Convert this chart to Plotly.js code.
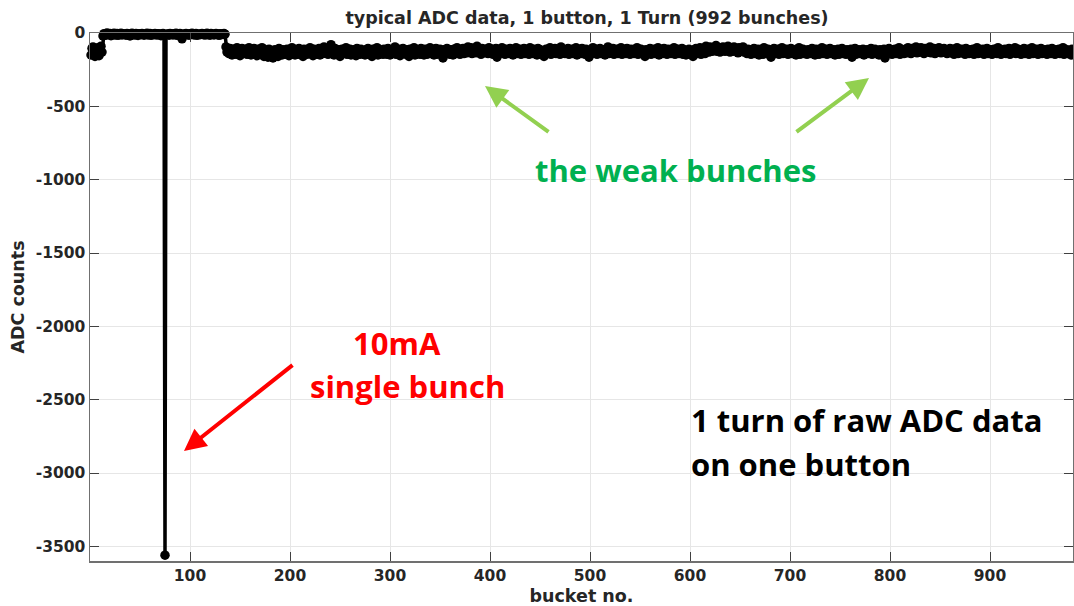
<!DOCTYPE html>
<html>
<head>
<meta charset="utf-8">
<script src="https://cdn.plot.ly/plotly-3.0.1.min.js"></script>
<style>html,body{margin:0;padding:0;background:#fff;}#chart{width:1074px;height:606px;}</style>
</head>
<body>
<div id="chart"></div>
<script>
// ADC counts, bunches 1-12 (before the fill gap)
const headBunches = [-150,-105,-95,-135,-160,-115,-145,-100,-155,-120,-90,-130];
// bunches 13-135 (gap, with 10mA single bunch at 75)
const gapBunches = [
-20,-5,-10,-15,0,-8,-12,-3,-18,-6,-10,-2,-14,-9,-4,-16,-7,-11,-1,-13,
-5,-10,-8,-15,-3,-12,-6,-20,-9,-2,-11,-7,-14,-4,-10,-17,-5,-8,-12,-3,
-9,-15,-6,-11,-2,-13,-8,-4,-16,-10,-7,-12,-3,-9,-14,-5,-11,-6,-18,-8,
-4,-10,
-3560,
-12,-6,-9,-15,-3,-11,-7,-13,-5,-10,-2,-16,-8,-12,-4,-9,-40,
-14,-6,-10,-3,-12,-8,-15,-5,-11,-2,-9,-13,-7,-4,-16,-10,-6,-12,-8,-3,
-11,-5,-14,-9,-2,-12,-7,-15,-4,-10,-8,-13,-6,-3,-11,-9,-16,-5,-12,-7,-10,-4,-8
];
// bunches 136-992 (the weak bunches)
const weakBunches = [
-95,-130,-115,-140,-105,-125,-150,-110,-135,-120,-145,-100,-130,-115,-155,-125,-105,-140,-120,-135,
-110,-145,-125,-100,-135,-150,-115,-130,-105,-140,-125,-155,-110,-135,-120,-145,-100,-130,-160,-115,
-140,-125,-165,-110,-135,-150,-120,-170,-130,-115,-145,-125,-160,-105,-140,-130,-150,-115,-135,-125,
-145,-110,-130,-155,-120,-140,-100,-135,-125,-150,-115,-130,-145,-105,-140,-120,-135,-160,-110,-130,
-125,-145,-115,-135,-100,-140,-130,-155,-110,-125,-145,-120,-135,-105,-150,-115,-130,-140,-95,-125,
-135,-115,-145,-110,-130,-80,-140,-120,-150,-105,-135,-125,-145,-115,-160,-130,-110,-140,-125,-135,
-100,-145,-120,-135,-110,-150,-125,-140,-115,-130,-155,-105,-135,-120,-145,-110,-130,-140,-125,-150,
-115,-135,-105,-145,-125,-130,-160,-110,-140,-120,-135,-100,-150,-125,-115,-140,-130,-145,-110,-135,
-120,-145,-105,-130,-150,-115,-140,-125,-135,-95,-145,-120,-130,-110,-155,-125,-140,-105,-135,-120,
-145,-115,-130,-160,-110,-140,-125,-135,-100,-150,-120,-140,-115,-130,-145,-105,-135,-125,-150,-110,
-130,-145,-120,-135,-100,-140,-125,-115,-150,-130,-105,-145,-120,-135,-110,-140,-125,-170,-115,-130,
-140,-105,-135,-120,-145,-115,-130,-150,-110,-125,-140,-100,-135,-120,-145,-115,-130,-105,-140,-125,
-110,-135,-95,-130,-120,-100,-140,-115,-125,-105,-135,-90,-130,-115,-120,-145,-105,-125,-135,-110,
-130,-115,-140,-100,-125,-135,-110,-145,-120,-130,-105,-165,-125,-140,-115,-130,-100,-135,-120,-145,
-110,-130,-125,-140,-105,-135,-120,-150,-115,-130,-100,-140,-125,-135,-110,-145,-120,-130,-105,-140,
-125,-135,-115,-145,-100,-130,-120,-140,-110,-135,-125,-150,-105,-130,-115,-140,-120,-135,-160,-125,
-110,-140,-120,-130,-100,-145,-115,-135,-125,-105,-140,-120,-130,-110,-145,-95,-135,-120,-125,-140,
-115,-130,-105,-145,-120,-135,-110,-140,-125,-130,-100,-150,-115,-135,-120,-140,-105,-130,-125,-145,
-110,-135,-120,-165,-130,-115,-140,-100,-125,-135,-110,-145,-120,-130,-105,-140,-125,-135,-115,-150,
-120,-130,-95,-140,-115,-135,-125,-105,-145,-120,-130,-110,-140,-125,-135,-100,-145,-115,-130,-120,
-140,-105,-130,-125,-145,-110,-135,-120,-140,-115,-130,-100,-145,-125,-135,-110,-140,-120,-130,-160,
-115,-140,-125,-135,-105,-145,-120,-130,-110,-140,-125,-135,-100,-150,-115,-130,-120,-140,-105,-135,
-125,-145,-110,-130,-120,-140,-115,-135,-100,-145,-125,-130,-110,-140,-120,-135,-105,-145,-115,-130,
-150,-120,-135,-110,-140,-125,-130,-160,-115,-135,-105,-140,-120,-130,-100,-145,-125,-135,-110,-140,
-90,-120,-105,-130,-95,-115,-125,-100,-120,-110,-85,-125,-105,-115,-130,-100,-120,-95,-110,-125,
-105,-120,-90,-115,-130,-100,-110,-125,-95,-120,-105,-115,-135,-100,-125,-110,-120,-95,-130,-115,
-125,-140,-110,-135,-120,-145,-115,-130,-105,-140,-125,-135,-110,-150,-120,-130,-115,-145,-100,-135,
-120,-140,-110,-130,-125,-165,-115,-135,-105,-140,-120,-130,-110,-145,-125,-135,-100,-140,-115,-130,
-135,-110,-145,-120,-130,-105,-140,-125,-135,-115,-150,-120,-130,-100,-145,-125,-135,-110,-140,-120,
-130,-145,-115,-135,-120,-140,-105,-130,-125,-150,-110,-135,-120,-145,-115,-130,-100,-140,-125,-135,
-110,-145,-120,-130,-105,-140,-125,-135,-115,-150,-120,-130,-110,-145,-125,-135,-105,-140,-120,-130,
-145,-115,-135,-125,-140,-110,-165,-120,-130,-105,-145,-125,-135,-115,-140,-120,-130,-110,-150,-125,
-135,-115,-140,-120,-130,-105,-145,-125,-135,-110,-140,-120,-130,-150,-115,-135,-125,-145,-110,-170,
-130,-120,-140,-105,-135,-125,-145,-115,-130,-110,-140,-120,-135,-100,-145,-125,-130,-115,-140,-120,
-110,-135,-100,-125,-120,-140,-105,-130,-115,-125,-95,-135,-110,-120,-130,-100,-125,-115,-140,-105,
-120,-130,-110,-125,-95,-135,-115,-120,-105,-140,-125,-110,-130,-100,-120,-135,-115,-125,-105,-130,
-115,-140,-120,-130,-105,-135,-125,-110,-145,-120,-130,-100,-140,-115,-125,-135,-110,-130,-120,-145,
-105,-130,-125,-140,-115,-135,-120,-110,-145,-125,-130,-100,-140,-120,-135,-115,-130,-110,-145,-125,
-135,-105,-140,-120,-130,-115,-145,-125,-110,-135,-120,-140,-100,-130,-125,-145,-115,-135,-120,-110,
-140,-125,-130,-105,-145,-120,-135,-115,-130,-100,-140,-125,-110,-135,-120,-145,-115,-130,-105,-140,
-125,-135,-110,-145,-120,-130,-100,-140,-115,-135,-125,-110,-145,-120,-130,-105,-140,-125,-135,-115,
-130,-145,-110,-135,-120,-140,-105,-130,-125,-145,-115,-135,-120,-110,-140,-125,-130,-100,-145,-120,
-135,-115,-140,-125,-130,-150,-110,-135,-120,-140,-105,-130,-125,-145,-115,-135,-120
];
const adcCounts = headBunches.concat(gapBunches, weakBunches);
const bucketNo = adcCounts.map((_, i) => i + 1);

const xTicks = [100,200,300,400,500,600,700,800,900];
const yTicks = [0,-500,-1000,-1500,-2000,-2500,-3000,-3500];

const titleText = 'typical ADC data, 1 button, 1 Turn (992 bunches)';
const xTitle = 'bucket no.';
const yTitle = 'ADC counts';

const tickFont = {family: 'DejaVu Sans', size: 15.5, color: '#262626', weight: 'bold'};
const labFont = {family: 'DejaVu Sans', size: 17.5, color: '#262626', weight: 'bold'};
const annFont = 'Open Sans';

const trace = {
  x: bucketNo, y: adcCounts, type: 'scatter', mode: 'lines+markers',
  line: {color: '#000', width: 3.5},
  marker: {color: '#000', size: 9.5},
  cliponaxis: false, hoverinfo: 'x+y'
};

function P(px, py) { return {x: (px - 90) / 983, y: (561 - py) / 528}; }

const annotations = [];
function txt(text, px, py, color, anchor, size) {
  const p = P(px, py);
  annotations.push({xref: 'paper', yref: 'paper', x: p.x, y: p.y, text: text, showarrow: false,
    xanchor: anchor, yanchor: 'middle', font: {family: annFont, size: size, color: color, weight: 'bold'}});
}
function arrow(hx, hy, tx, ty, color) {
  const p = P(hx, hy);
  annotations.push({xref: 'paper', yref: 'paper', x: p.x, y: p.y, text: '', showarrow: true,
    ax: tx - hx, ay: ty - hy, arrowhead: 2, arrowsize: 1.1, arrowwidth: 4, arrowcolor: color});
}
txt('the weak bunches', 675, 170, '#00B050', 'center', 31);
txt('10mA', 397, 343, '#FF0000', 'center', 31);
txt('single bunch', 407, 386, '#FF0000', 'center', 31);
txt('1 turn of raw ADC data', 689, 420, '#000000', 'left', 31);
txt('on one button', 689, 464, '#000000', 'left', 31);
arrow(485, 86, 550, 133, '#92D050');
arrow(869, 78, 795, 133, '#92D050');
arrow(184, 451, 294, 364, '#FF0000');

const layout = {
  width: 1074, height: 606,
  margin: {l: 90, r: 1, t: 33, b: 45},
  paper_bgcolor: '#fff', plot_bgcolor: '#fff',
  showlegend: false,
  title: {text: titleText, x: (587 - 90) / 983, xref: 'paper', xanchor: 'center',
    y: 1 - 18 / 606, yref: 'container', yanchor: 'middle', font: labFont},
  xaxis: {range: [0, 983], tickvals: xTicks, ticktext: xTicks.map(String),
    showgrid: true, gridcolor: '#e6e6e6', gridwidth: 1, zeroline: false,
    showline: true, linecolor: '#707070', linewidth: 1.5, mirror: 'ticks',
    ticks: 'inside', ticklen: 9, tickwidth: 1, tickcolor: '#404040',
    tickfont: tickFont,
    title: {text: xTitle, font: labFont, standoff: 7}},
  yaxis: {range: [-3600, 0], tickvals: yTicks, ticktext: yTicks.map(String),
    showgrid: true, gridcolor: '#e6e6e6', gridwidth: 1, zeroline: false,
    showline: true, linecolor: '#707070', linewidth: 1.5, mirror: 'ticks',
    ticks: 'inside', ticklen: 9, tickwidth: 1, tickcolor: '#404040',
    tickfont: tickFont,
    title: {text: yTitle, font: labFont, standoff: 6}},
  annotations: annotations
};

Plotly.newPlot('chart', [trace], layout, {staticPlot: true, displayModeBar: false});
</script>
</body>
</html>
